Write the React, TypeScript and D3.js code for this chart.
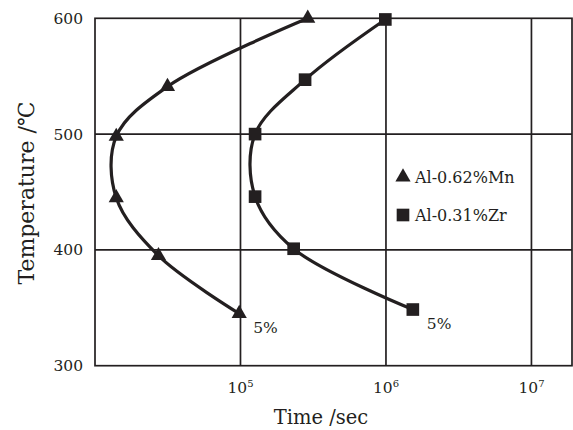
import { useEffect, useRef } from "react";
import * as d3 from "d3";

// Time to 5% precipitation (sec) vs ageing temperature (°C)
const mnTime = [9.8e4, 2.73e4, 1.4e4, 1.4e4, 3.15e4, 2.9e5];
const mnTemp = [345, 395, 445, 498, 541, 600];
const zrTime = [1.53e6, 2.32e5, 1.26e5, 1.26e5, 2.78e5, 9.9e5];
const zrTemp = [348.5, 401, 446, 500, 547, 599];

const yTicks = [300, 400, 500, 600];
const xTicks = [1e5, 1e6, 1e7];
const legendLabels = ["Al-0.62%Mn", "Al-0.31%Zr"];

const INK = "#231f20";
const FONT = "'DejaVu Serif', serif";

export default function App() {
  const svgRef = useRef<SVGSVGElement>(null);

  useEffect(() => {
    const svgEl = svgRef.current;
    if (!svgEl) return;
    const width = 573;
    const height = 430;
    const margin = { top: 18.3, right: 1, bottom: 64.3, left: 95 };

    const x = d3.scaleLog().domain([1e4, 1.9e7]).range([margin.left, width - margin.right]);
    const y = d3.scaleLinear().domain([300, 600]).range([height - margin.bottom, margin.top]);

    const svg = d3.select(svgEl).attr("width", width).attr("height", height);
    svg.selectAll("*").remove();

    // ── frame + grid ──────────────────────────────────────────────────────
    const grid = svg.append("g").attr("stroke", INK).attr("stroke-width", 1.7).attr("fill", "none");
    grid
      .append("rect")
      .attr("x", x.range()[0])
      .attr("y", y.range()[1])
      .attr("width", x.range()[1] - x.range()[0])
      .attr("height", y.range()[0] - y.range()[1]);
    for (const t of xTicks) {
      grid.append("line").attr("x1", x(t)).attr("x2", x(t)).attr("y1", y(300)).attr("y2", y(600));
    }
    for (const t of [400, 500]) {
      grid.append("line").attr("x1", x.range()[0]).attr("x2", x.range()[1]).attr("y1", y(t)).attr("y2", y(t));
    }

    // ── tick labels ───────────────────────────────────────────────────────
    svg
      .append("g")
      .selectAll("text")
      .data(yTicks)
      .join("text")
      .attr("x", x.range()[0] - 12)
      .attr("y", (d) => y(d))
      .attr("dy", "0.36em")
      .attr("text-anchor", "end")
      .attr("font-family", FONT)
      .attr("font-size", 15.5)
      .attr("fill", INK)
      .text((d) => d);

    const xl = svg
      .append("g")
      .selectAll("text")
      .data(xTicks)
      .join("text")
      .attr("x", (d) => x(d))
      .attr("y", y(300) + 27.6)
      .attr("text-anchor", "middle")
      .attr("font-family", FONT)
      .attr("font-size", 15.5)
      .attr("fill", INK);
    xl.append("tspan").text("10");
    xl.append("tspan")
      .attr("dy", -6)
      .attr("font-size", 10)
      .text((d) => String(Math.round(Math.log10(d))));

    // ── axis titles ───────────────────────────────────────────────────────
    svg
      .append("text")
      .attr("x", 321)
      .attr("y", 423.5)
      .attr("text-anchor", "middle")
      .attr("font-family", FONT)
      .attr("font-size", 19.5)
      .attr("fill", INK)
      .text("Time /sec");

    svg
      .append("text")
      .attr("transform", `translate(34,193) rotate(-90)`)
      .attr("text-anchor", "middle")
      .attr("font-family", FONT)
      .attr("font-size", 22)
      .attr("fill", INK)
      .text("Temperature /℃");

    // ── curves ────────────────────────────────────────────────────────────
    const line = d3
      .line<[number, number]>()
      .x((d) => x(d[0]))
      .y((d) => y(d[1]))
      .curve(d3.curveCatmullRom.alpha(0.5));

    const tri = d3.symbol(d3.symbolTriangle, 100)();
    const sq = d3.symbol(d3.symbolSquare, 160)();

    const series = [
      { time: mnTime, temp: mnTemp, marker: tri },
      { time: zrTime, temp: zrTemp, marker: sq },
    ];

    for (const s of series) {
      const pts = s.time.map((t, i) => [t, s.temp[i]] as [number, number]);
      svg
        .append("path")
        .attr("d", line(pts))
        .attr("fill", "none")
        .attr("stroke", INK)
        .attr("stroke-width", 3.2);
      svg
        .append("g")
        .selectAll("path")
        .data(pts)
        .join("path")
        .attr("d", s.marker)
        .attr("transform", (d) => `translate(${x(d[0])},${y(d[1])})`)
        .attr("fill", INK);

      // "5%" label beside the lowest point
      const p0 = pts[0];
      svg
        .append("text")
        .attr("x", x(p0[0]) + 14)
        .attr("y", y(p0[1]) + 19)
        .attr("font-family", FONT)
        .attr("font-size", 15.5)
        .attr("fill", INK)
        .text("5%");
    }

    // ── legend ────────────────────────────────────────────────────────────
    const legend = svg.append("g").attr("transform", "translate(403,177)");
    legendLabels.forEach((label, i) => {
      const g = legend.append("g").attr("transform", `translate(0,${i * 38})`);
      g.append("path").attr("d", i === 0 ? tri : sq).attr("fill", INK);
      g.append("text")
        .attr("x", 12)
        .attr("y", 5.7)
        .attr("font-family", FONT)
        .attr("font-size", 16)
        .attr("fill", INK)
        .text(label);
    });
  }, []);

  return (
    <div style={{ position: "absolute", left: 0, top: 0, width: 573, height: 430, background: "#fff" }}>
      <svg ref={svgRef} style={{ display: "block" }} />
    </div>
  );
}
